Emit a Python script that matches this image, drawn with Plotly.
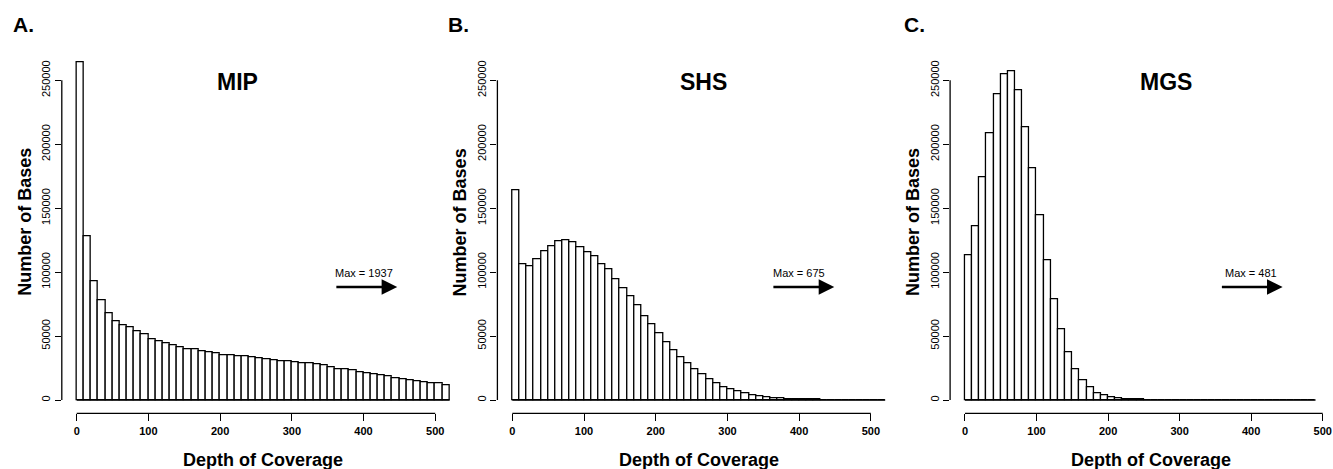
import plotly.graph_objects as go

BIN_WIDTH = 10

# Panel A: MIP, bins 0-520
mip_counts = [264400, 128150, 92900, 78300, 67900, 61900, 58200, 56900, 53500, 51700,
              47500, 45700, 44600, 42800, 41000, 39900, 39900, 38100, 37100, 36500,
              35200, 34700, 34400, 33900, 33400, 32400, 31800, 30800, 30500, 30000,
              29200, 28700, 28400, 27900, 27400, 25300, 24000, 24000, 23000, 21700,
              20900, 19800, 19100, 18300, 17200, 16200, 15400, 14600, 13800, 13300,
              12800, 11700]
# Panel B: SHS, bins 0-520
shs_counts = [164400, 106500, 104400, 109900, 116100, 120300, 124200, 124800, 123700, 119500,
              115900, 112200, 106200, 102000, 94500, 87700, 80900, 74100, 65800, 59500,
              52200, 45200, 39200, 33400, 28700, 24000, 19800, 16200, 13100, 10400,
              8600, 6500, 5200, 3900, 2900, 2300, 1800, 1300, 1000, 800,
              500, 400, 300, 0, 0, 0, 0, 0, 0, 0, 0, 0]
# Panel C: MGS, bins 0-490
mgs_counts = [113500, 136000, 174100, 208500, 238800, 254700, 257300, 242200, 213200, 181100,
              144900, 109400, 78600, 55300, 37600, 24000, 15400, 9700, 5500, 3400,
              2100, 1600, 1000, 600, 400, 0, 0, 0, 0, 0, 0, 0, 0, 0, 0, 0, 0, 0, 0, 0,
              0, 0, 0, 0, 0, 0, 0, 0, 0]

panel_titles = ["MIP", "SHS", "MGS"]
panel_letters = ["A.", "B.", "C."]
max_labels = ["Max = 1937", "Max = 675", "Max = 481"]
x_ticks = [0, 100, 200, 300, 400, 500]
x_tick_labels = ["0", "100", "200", "300", "400", "500"]
y_ticks = [0, 50000, 100000, 150000, 200000, 250000]
y_tick_labels = ["0", "50000", "100000", "150000", "200000", "250000"]

W, H = 1333, 469
FONT = "Liberation Sans, Arial, Helvetica, sans-serif"

panels = [
    dict(counts=mip_counts, dom=(61.8, 464.5), xr=(-20.8, 540.8), title_x=224,
         arrow=(360, 447), text_x=400),
    dict(counts=shs_counts, dom=(497.4, 900.1), xr=(-20.8, 540.8), title_x=267,
         arrow=(362, 449), text_x=400),
    dict(counts=mgs_counts, dom=(950.1, 1333), xr=(-20.8, 514.4), title_x=281,
         arrow=(357, 444), text_x=400),
]
ydom = ((469 - 413.3) / H, (469 - 54.2) / H)
yrange = (-10400, 270400)

fig = go.Figure()
shapes = []
annotations = []

for i, p in enumerate(panels):
    n = i + 1
    xa = "x" if n == 1 else f"x{n}"
    ya = "y" if n == 1 else f"y{n}"
    counts = p["counts"]
    centers = [BIN_WIDTH * k + BIN_WIDTH / 2 for k in range(len(counts))]
    edges_end = BIN_WIDTH * len(counts)
    # baseline under zero bins
    fig.add_trace(go.Scatter(x=[0, edges_end], y=[0, 0], mode="lines",
                             line=dict(color="black", width=1.3),
                             xaxis=xa, yaxis=ya, showlegend=False, hoverinfo="skip"))
    fig.add_trace(go.Bar(x=centers, y=counts, width=BIN_WIDTH,
                         marker=dict(color="white", line=dict(color="black", width=1.3)),
                         xaxis=xa, yaxis=ya, showlegend=False))

    axkey = "xaxis" if n == 1 else f"xaxis{n}"
    aykey = "yaxis" if n == 1 else f"yaxis{n}"
    fig.update_layout(**{
        axkey: dict(domain=[p["dom"][0] / W, min(p["dom"][1] / W, 1.0)], range=list(p["xr"]),
                    anchor=ya, showgrid=False, zeroline=False, showline=False,
                    tickmode="array", tickvals=x_ticks, ticktext=x_tick_labels,
                    ticks="outside", ticklen=7, tickwidth=1, tickcolor="black",
                    tickfont=dict(family=FONT, size=11, color="black", weight="bold")),
        aykey: dict(domain=list(ydom), range=list(yrange), anchor=xa,
                    showgrid=False, zeroline=False, showline=False,
                    tickmode="array", tickvals=y_ticks, ticktext=y_tick_labels,
                    ticks="outside", ticklen=6, tickwidth=1, tickcolor="black", tickangle=-90,
                    tickfont=dict(family=FONT, size=11, color="black")),
    })
    # R-style axis lines spanning first to last tick
    shapes.append(dict(type="line", xref=xa, yref=f"{ya} domain", x0=x_ticks[0], x1=x_ticks[-1],
                       y0=0, y1=0, line=dict(color="black", width=1.3)))
    shapes.append(dict(type="line", xref=f"{xa} domain", yref=ya, x0=0, x1=0,
                       y0=y_ticks[0], y1=y_ticks[-1], line=dict(color="black", width=1.3)))

    # panel title
    annotations.append(dict(xref=xa, yref=ya, x=p["title_x"], y=248700, text=f"<b>{panel_titles[i]}</b>",
                            showarrow=False, font=dict(family=FONT, size=23, color="black"),
                            xanchor="center", yanchor="middle"))
    # max label
    annotations.append(dict(xref=xa, yref=ya, x=p["text_x"], y=99300, text=max_labels[i],
                            showarrow=False, font=dict(family=FONT, size=11, color="black"),
                            xanchor="center", yanchor="middle"))
    # arrow
    annotations.append(dict(xref=xa, yref=ya, x=p["arrow"][1], y=88400, axref=xa, ayref=ya,
                            ax=p["arrow"][0], ay=88400, text="", showarrow=True,
                            arrowhead=2, arrowsize=1.2, arrowwidth=2.6, arrowcolor="black",
                            standoff=0, startstandoff=0))
    # axis titles
    cx = (p["dom"][0] + (p["dom"][0] + 402.7)) / 2
    annotations.append(dict(xref="paper", yref="paper", x=cx / W, y=(469 - 460) / H,
                            text="<b>Depth of Coverage</b>", showarrow=False,
                            font=dict(family=FONT, size=18, color="black"),
                            xanchor="center", yanchor="middle"))
    annotations.append(dict(xref="paper", yref="paper", x=(p["dom"][0] - 37) / W,
                            y=(469 - 222) / H, text="<b>Number of Bases</b>", showarrow=False,
                            textangle=-90, font=dict(family=FONT, size=18, color="black"),
                            xanchor="center", yanchor="middle"))

letter_x = [23.5, 458.5, 914]
for i in range(3):
    annotations.append(dict(xref="paper", yref="paper", x=letter_x[i] / W, y=(469 - 24.5) / H,
                            text=f"<b>{panel_letters[i]}</b>", showarrow=False,
                            font=dict(family=FONT, size=21, color="black"),
                            xanchor="center", yanchor="middle"))

fig.update_layout(width=W, height=H, margin=dict(l=0, r=0, t=0, b=0),
                  paper_bgcolor="white", plot_bgcolor="white", bargap=0,
                  shapes=shapes, annotations=annotations)

fig.write_html("out.html", config={"displayModeBar": False})

# remove the default page margin so the figure sits at the window's top-left corner
with open("out.html", "r", encoding="utf-8") as f:
    html = f.read()
html = html.replace("<head>", "<head><style>html,body{margin:0;padding:0;overflow:hidden;}</style>", 1)
with open("out.html", "w", encoding="utf-8") as f:
    f.write(html)
